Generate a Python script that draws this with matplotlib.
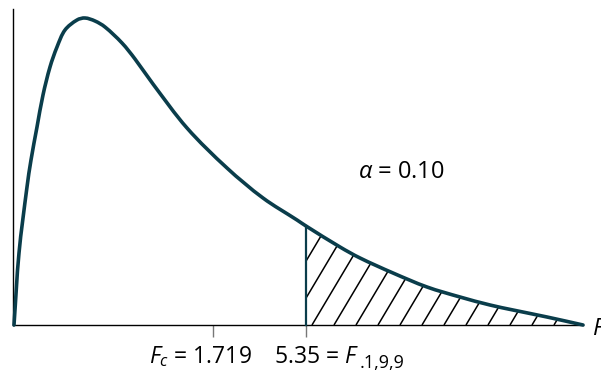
import matplotlib
matplotlib.use("Agg")
import matplotlib.pyplot as plt
import numpy as np
from matplotlib.path import Path
from matplotlib.patches import PathPatch, Polygon

plt.rcParams['font.family'] = ['Open Sans', 'DejaVu Sans']
plt.rcParams['mathtext.fontset'] = 'custom'
plt.rcParams['mathtext.rm'] = 'Open Sans'
plt.rcParams['mathtext.it'] = 'Open Sans:italic'

# density curve (x along the F axis, y = height)
curve_x = [0.01, 0.06, 0.14, 0.18, 0.24, 0.30, 0.37, 0.44, 0.52, 0.64, 0.72,
           0.82, 0.92, 1.09, 1.22, 1.40, 1.74, 2.14, 2.50, 2.84, 2.93,
           3.27, 3.47, 3.80, 4.14, 4.47, 4.77, 5.00, 5.34, 5.70]
curve_y = [0.00, 0.72, 1.38, 1.65, 1.98, 2.30, 2.58, 2.78, 2.95, 3.05, 3.07,
           3.04, 2.98, 2.82, 2.66, 2.41, 1.97, 1.57, 1.27, 1.05, 0.99,
           0.78, 0.67, 0.52, 0.38, 0.28, 0.20, 0.15, 0.08, 0.00]

f_c_pos = 2.00       # where F_c sits on the axis
f_crit_pos = 2.93    # where F_.1,9,9 sits on the axis
f_c_label = r"$F_c$ = 1.719"
f_crit_label = r"5.35 = $F$"
f_crit_sub = ".1,9,9"
alpha_label = r"$\alpha$ = 0.10"
axis_label = r"$F$"

teal = '#0a3d4b'


def smooth_path(xs, ys):
    # chord-length Catmull-Rom through the read points, as Bezier pieces
    p = np.column_stack([xs, ys])
    t = np.concatenate([[0], np.cumsum(np.hypot(*np.diff(p, axis=0).T))])
    m = np.zeros_like(p)
    m[1:-1] = (p[2:] - p[:-2]) / (t[2:] - t[:-2])[:, None]
    m[0] = (p[1] - p[0]) / (t[1] - t[0])
    m[-1] = (p[-1] - p[-2]) / (t[-1] - t[-2])
    verts = [p[0]]
    codes = [Path.MOVETO]
    for i in range(len(p) - 1):
        h = (t[i + 1] - t[i]) / 3
        verts += [p[i] + m[i] * h, p[i + 1] - m[i + 1] * h, p[i + 1]]
        codes += [Path.CURVE4] * 3
    return Path(np.array(verts), codes)


fig = plt.figure(figsize=(6.01, 3.74), dpi=100)
ax = fig.add_axes([0, 0, 1, 1])
ax.set_xlim(-0.13, 5.88)
ax.set_ylim(-0.49, 3.25)

cx = np.array(curve_x)
cy = np.array(curve_y)
curve = smooth_path(cx, cy)

# shaded tail region with diagonal hatch
flat = curve.to_polygons(closed_only=False)[0]
tail = flat[flat[:, 0] >= f_crit_pos]
top_at_crit = np.interp(f_crit_pos, flat[:, 0], flat[:, 1])
region_pts = np.vstack([[f_crit_pos, top_at_crit], tail,
                        [cx[-1], 0], [f_crit_pos, 0]])
region = Polygon(region_pts, closed=True, facecolor='none', edgecolor='none')
ax.add_patch(region)
slope = 1.68
for x0 in np.arange(f_crit_pos + 0.06 - 0.22 * 2, cx[-1] + 0.1, 0.22):
    ln, = ax.plot([x0, x0 + 1.2 / slope], [0, 1.2], color='black', lw=1.1,
                  solid_capstyle='butt', zorder=2)
    ln.set_clip_path(region)

ax.add_patch(PathPatch(curve, facecolor='none', edgecolor=teal, lw=2.6,
                       capstyle='round', joinstyle='round', zorder=4))
ax.plot([f_crit_pos, f_crit_pos], [0, top_at_crit], color=teal, lw=1.6,
        zorder=3)

for s in ['top', 'right']:
    ax.spines[s].set_visible(False)
ax.spines['left'].set_position(('data', 0))
ax.spines['bottom'].set_position(('data', 0))
ax.spines['left'].set_bounds(0, 3.16)
ax.spines['bottom'].set_bounds(0, cx[-1])
ax.spines['left'].set_linewidth(1.0)
ax.spines['bottom'].set_linewidth(1.0)
ax.set_yticks([])
ax.set_xticks([f_c_pos, f_crit_pos])
ax.set_xticklabels([])
ax.tick_params(axis='x', direction='out', length=8.4, width=1.0,
               color='#777777')

ax.text(2.39, -0.38, f_c_label, fontsize=16.5, ha='right', va='baseline')
crit = ax.text(2.61, -0.38, f_crit_label, fontsize=16.5, ha='left',
               va='baseline')
ax.annotate(f_crit_sub, xy=(1, 0), xycoords=crit, xytext=(1, -3),
            textcoords='offset pixels', fontsize=13, ha='left', va='bottom')
ax.text(3.45, 1.47, alpha_label, fontsize=17, ha='left', va='baseline')
ax.text(5.787, -0.10, axis_label, fontsize=17, ha='left', va='baseline')

fig.savefig('out.png', dpi=100)
